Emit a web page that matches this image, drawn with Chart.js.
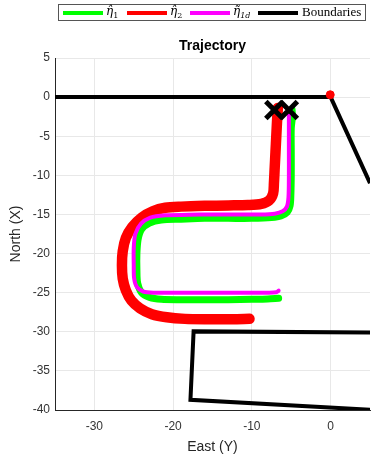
<!DOCTYPE html>
<html>
<head>
<meta charset="utf-8">
<script src="https://cdn.jsdelivr.net/npm/chart.js@4/dist/chart.umd.min.js"></script>
<style>
  html, body { margin: 0; padding: 0; background: #fff; }
  #wrap { width: 373px; height: 458px; }
</style>
</head>
<body>
<div id="wrap"><canvas id="c" width="373" height="458"></canvas></div>
<script>
// Axis ticks
const xTicks = [-30, -20, -10, 0];
const yTicks = [-40, -35, -30, -25, -20, -15, -10, -5, 0, 5];

// Estimated trajectory η̂1 (East, North)
const eta1 = [
  [-4.9, -1.6], [-4.85, -2.5], [-5.0, -4], [-5.0, -7], [-5.0, -10], [-5.05, -12.5], [-5.15, -13.9],
  [-5.5, -14.7], [-6.3, -15.2], [-7.5, -15.4], [-10, -15.5], [-13, -15.5], [-16, -15.5],
  [-19, -15.6], [-21.5, -15.7], [-23, -16.1], [-24.0, -16.9], [-24.45, -18.2], [-24.6, -20],
  [-24.6, -22], [-24.5, -23.8], [-24.0, -25.0], [-23.0, -25.6], [-21.5, -25.85], [-19, -25.9],
  [-16, -25.9], [-13, -25.9], [-10, -25.85], [-8, -25.8], [-6.6, -25.7]
];

// Estimated trajectory η̂2
const eta2 = [
  [-6.7, -1.4], [-6.8, -3], [-6.9, -5], [-7.0, -7], [-7.1, -9], [-7.2, -11], [-7.3, -12.3],
  [-7.8, -13.2], [-8.8, -13.65], [-10.5, -13.8], [-13, -13.85], [-16, -13.9], [-19, -14.0],
  [-21, -14.15], [-22.6, -14.6], [-24.0, -15.4], [-25.2, -16.6], [-26.0, -18.0], [-26.4, -19.7],
  [-26.5, -21.5], [-26.4, -23.2], [-26.0, -24.7], [-25.3, -26.0], [-24.2, -27.0],
  [-22.7, -27.75], [-20.8, -28.15], [-18.5, -28.35], [-15.5, -28.4], [-12.5, -28.4], [-10.3, -28.35]
];

// Desired trajectory η̃1d
const eta1d = [
  [-5.3, -1.8], [-5.3, -4], [-5.3, -7], [-5.3, -10], [-5.35, -12.8], [-5.55, -14.0],
  [-6.1, -14.6], [-7.1, -14.9], [-9, -15.0], [-12, -15.0], [-15, -15.0], [-18, -15.05],
  [-21, -15.1], [-22.9, -15.4], [-24.1, -16.2], [-24.8, -17.5], [-25.0, -19.3], [-25.0, -21.5],
  [-24.95, -23.2], [-24.6, -24.3], [-23.8, -24.85], [-22.5, -25.0], [-19, -25.0], [-15, -25.0],
  [-11, -25.0], [-8, -25.0], [-6.9, -24.95], [-6.6, -24.75]
];

// Boundary segments (null separates the pieces)
const boundaries = [
  [-35, 0], [0, 0], [5, -11], null,
  [5.6, -30.1], [-17.4, -29.95], [-17.8, -38.7], [5.6, -40.0]
];

// Start markers and origin sample
const startMarks = [[-7.15, -1.65], [-5.3, -1.65]];
const eta2Origin = [[-0.05, 0.3]];

const toXY = arr => arr.map(p => p ? { x: p[0], y: p[1] } : { x: null, y: null });

const green = '#00ff00', red = '#ff0000', magenta = '#ff00ff';

const legendItems = [
  { color: green, base: 'η\u0302', sub: '1' },
  { color: red, base: 'η\u0302', sub: '2' },
  { color: magenta, base: 'η\u0303', sub: '1d', italicSub: true },
  { color: '#000000', base: 'Boundaries', sub: '' }
];

// Title and legend box drawn above the plot area
const overlay = {
  id: 'overlay',
  afterDraw(chart) {
    const ctx = chart.ctx;
    const area = chart.chartArea;
    ctx.save();
    ctx.fillStyle = '#000';
    ctx.font = 'bold 14px "Liberation Sans", Arial, sans-serif';
    ctx.textAlign = 'center';
    ctx.textBaseline = 'middle';
    ctx.fillText('Trajectory', (area.left + area.right) / 2, 46);

    const bx = 58.5, by = 4.5, bw = 307, bh = 16;
    ctx.fillStyle = '#fff';
    ctx.fillRect(bx, by, bw, bh);
    ctx.strokeStyle = '#555';
    ctx.lineWidth = 1;
    ctx.strokeRect(bx, by, bw, bh);

    const starts = [63, 127, 190, 258];
    const cy = 13;
    legendItems.forEach((it, i) => {
      const x0 = starts[i];
      ctx.strokeStyle = it.color;
      ctx.lineWidth = 4;
      ctx.lineCap = 'butt';
      ctx.beginPath();
      ctx.moveTo(x0, cy);
      ctx.lineTo(x0 + 40, cy);
      ctx.stroke();
      ctx.fillStyle = '#000';
      ctx.textAlign = 'left';
      ctx.textBaseline = 'middle';
      if (it.sub) {
        ctx.font = 'italic 12px "DejaVu Serif", "Liberation Serif", serif';
        ctx.fillText(it.base, x0 + 43, cy - 1);
        const w = ctx.measureText('η').width;
        ctx.font = (it.italicSub ? 'italic ' : '') + '8px "DejaVu Serif", "Liberation Serif", serif';
        ctx.fillText(it.sub, x0 + 43 + w, cy + 3);
      } else {
        ctx.font = '13px "Liberation Serif", "Times New Roman", serif';
        ctx.fillText(it.base, x0 + 44, cy);
      }
    });
    ctx.restore();
  }
};

const lineDs = (label, data, color, width, order) => ({
  label, data: toXY(data), showLine: true, borderColor: color, backgroundColor: color,
  borderWidth: width, pointRadius: 0, pointHoverRadius: 0, tension: 0.3,
  borderCapStyle: 'round', borderJoinStyle: 'round', order, spanGaps: false
});

new Chart(document.getElementById('c'), {
  type: 'scatter',
  data: {
    datasets: [
      lineDs('η̂1', eta1, green, 7, 6),
      lineDs('η̂2', eta2, red, 10.5, 5),
      lineDs('η̃1d', eta1d, magenta, 4, 4),
      Object.assign(lineDs('Boundaries', boundaries, '#000', 4, 3), { tension: 0, borderCapStyle: 'butt', borderJoinStyle: 'miter' }),
      {
        label: 'origin', data: toXY(eta2Origin), pointRadius: 4, pointBackgroundColor: red,
        pointBorderColor: red, order: 2
      },
      {
        label: 'start', data: toXY(startMarks), pointStyle: 'crossRot', pointRadius: 12,
        pointBorderColor: '#000', pointBorderWidth: 5, borderColor: '#000', borderWidth: 5, order: 1
      }
    ]
  },
  options: {
    responsive: false,
    animation: false,
    events: [],
    layout: { autoPadding: false, padding: { top: 58, right: 3, left: 0, bottom: 0 } },
    plugins: { legend: { display: false }, title: { display: false }, tooltip: { enabled: false } },
    scales: {
      x: {
        type: 'linear', min: -35, max: 5,
        afterBuildTicks: s => { s.ticks = xTicks.map(v => ({ value: v })); },
        afterFit: s => { s.height = 48; },
        grid: { color: '#e8e8e8', drawTicks: false },
        border: { color: '#262626', width: 1 },
        ticks: { color: '#333', font: { family: 'Arial, "Liberation Sans", sans-serif', size: 12 }, padding: 9 },
        title: { display: true, text: 'East (Y)', color: '#262626', font: { family: 'Arial, "Liberation Sans", sans-serif', size: 14 }, padding: { top: 2, bottom: 2 } }
      },
      y: {
        type: 'linear', min: -40, max: 5,
        afterBuildTicks: s => { s.ticks = yTicks.map(v => ({ value: v })); },
        afterFit: s => { s.width = 55; },
        grid: { color: '#e8e8e8', drawTicks: false },
        border: { color: '#262626', width: 1 },
        ticks: { color: '#333', font: { family: 'Arial, "Liberation Sans", sans-serif', size: 12 }, padding: 5 },
        title: { display: true, text: 'North (X)', color: '#262626', font: { family: 'Arial, "Liberation Sans", sans-serif', size: 14 }, padding: { top: 8, bottom: 0 } }
      }
    }
  },
  plugins: [overlay]
});
</script>
</body>
</html>
